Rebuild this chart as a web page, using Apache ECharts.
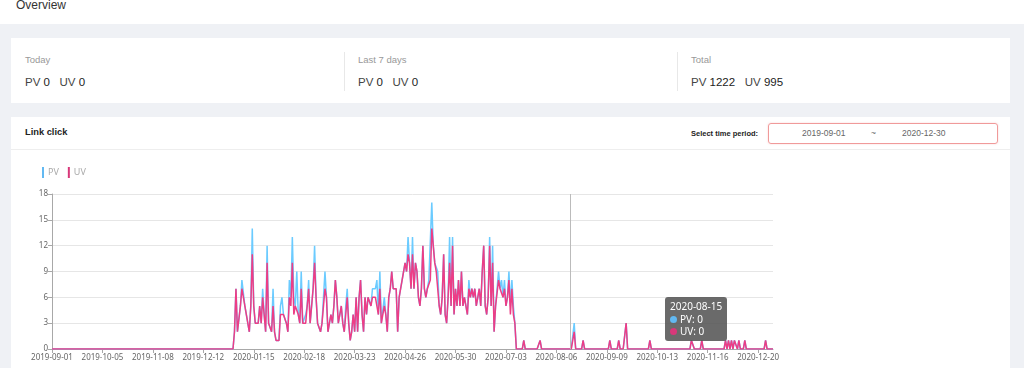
<!DOCTYPE html>
<html>
<head>
<meta charset="utf-8">
<script src="https://cdn.jsdelivr.net/npm/echarts@6/dist/echarts.min.js"></script>
<style>
  html, body { margin:0; padding:0; }
  body { width:1024px; height:368px; overflow:hidden; background:#eff1f5; position:relative;
         font-family:"Liberation Sans", Arial, sans-serif; }
  .abs { position:absolute; }
  .topbar { left:0; top:0; width:1024px; height:24px; background:#fff; }
  .title { left:16px; top:-2px; font-size:12px; color:#333; }
  .card { background:#fff; }
  .lbl { font-size:9.5px; color:#999; }
  .stat { font-size:11.5px; color:#444; }
  .stat b { font-weight:normal; color:#222; }
  .vdiv { width:1px; background:#e8e8e8; }
  .hdr { font-size:9.3px; font-weight:bold; color:#222; }
  .picker { border:1px solid #f09a9a; border-radius:3px; box-shadow:0 0 2px rgba(240,120,120,0.35); }
  .pk { font-size:8.5px; color:#666; top:4px; }
</style>
</head>
<body>
<div class="abs topbar"></div>
<div class="abs title">Overview</div>

<div class="abs card" style="left:11px;top:38px;width:999px;height:65px;"></div>
<div class="abs lbl" style="left:25px;top:54px;">Today</div>
<div class="abs stat" style="left:25px;top:76px;">PV <b>0</b>&nbsp;&nbsp; UV <b>0</b></div>
<div class="abs vdiv" style="left:344px;top:52px;height:39px;"></div>
<div class="abs lbl" style="left:358px;top:54px;">Last 7 days</div>
<div class="abs stat" style="left:358px;top:76px;">PV <b>0</b>&nbsp;&nbsp; UV <b>0</b></div>
<div class="abs vdiv" style="left:677px;top:52px;height:39px;"></div>
<div class="abs lbl" style="left:691px;top:54px;">Total</div>
<div class="abs stat" style="left:691px;top:76px;">PV <b>1222</b>&nbsp;&nbsp; UV <b>995</b></div>

<div class="abs card" style="left:11px;top:117px;width:999px;height:260px;"></div>
<div class="abs hdr" style="left:25px;top:127px;">Link click</div>
<div class="abs" style="left:11px;top:149px;width:999px;height:1px;background:#eeeeee;"></div>
<div class="abs hdr" style="left:691px;top:129px;font-size:7.5px;">Select time period:</div>
<div class="abs picker" style="left:768px;top:123px;width:228px;height:19px;">
  <div class="abs pk" style="left:33px;">2019-09-01</div>
  <div class="abs pk" style="left:102px;">~</div>
  <div class="abs pk" style="left:133px;">2020-12-30</div>
</div>

<div id="chart" class="abs" style="left:11px;top:151px;width:999px;height:217px;"></div>

<script>
// ---- data ----
const startDate = '2019-09-01';
const endDate = '2020-12-30';
const legendNames = ['PV', 'UV'];
// daily values from 2020-01-02 to 2020-07-11 (other days are 0 unless listed below)
const activeStart = '2020-01-02';
const pvActive = [
  2,7,2,2,5,8,8,5,4,4,2,5,14,5,3,3,3,5,3,7,4,2,12,3,3,2,7,2,1,1,1,5,6,4,4,3,2,8,6,13,6,5,9,4,3,9,3,3,4,5,8,3,3,7,12,6,3,3,2,3,3,9,6,2,3,4,3,5,8,6,3,4,5,3,2,5,7,3,1,2,4,2,6,2,6,8,4,2,6,4,6,6,5,7,7,7,8,4,9,3,3,6,4,2,6,7,9,7,7,7,2,6,7,7,9,10,9,13,10,7,13,7,10,9,6,5,7,12,7,6,7,8,8,17,12,10,10,9,5,4,6,11,4,3,6,13,5,13,4,7,5,8,5,9,5,6,5,4,8,6,7,6,7,5,6,7,5,9,12,5,4,6,13,5,12,2,5,5,9,7,8,6,8,5,6,9,5,8,5,3
];
const uvActive = [
  2,7,2,2,5,7,7,5,4,4,2,5,11,5,3,3,3,5,3,6,4,2,10,3,3,2,5,2,1,1,1,4,4,4,4,3,2,6,5,10,4,5,5,4,3,7,3,3,3,3,7,3,3,7,10,6,3,3,2,3,3,7,6,2,3,4,3,5,8,6,3,4,5,3,2,4,6,3,1,2,4,2,6,2,6,8,4,2,6,4,6,6,5,6,6,6,6,4,7,3,3,5,4,2,6,7,9,7,7,7,2,6,7,7,9,10,9,11,10,7,11,7,10,9,6,5,7,12,7,6,7,7,8,14,12,10,9,9,5,4,6,11,4,3,6,10,5,12,4,7,5,8,5,9,5,6,5,4,7,6,7,6,7,5,6,7,5,9,12,5,4,6,12,5,10,2,5,5,8,7,7,6,7,5,6,8,4,7,4,3
];
// sparse later days
const laterDays = ['2020-07-15','2020-07-26','2020-08-18','2020-08-24','2020-09-11','2020-09-17','2020-09-22','2020-10-08','2020-11-05','2020-11-06','2020-11-12','2020-11-28','2020-11-30','2020-12-02','2020-12-04','2020-12-05','2020-12-07','2020-12-11','2020-12-25'];
const laterPV = [1,1,3,1,1,1,3,1,1,1,1,1,1,1,1,1,1,1,1];
const laterUV = [1,1,2,1,1,1,3,1,1,1,1,1,1,1,1,1,1,1,1];
const tipDate = '2020-08-15';

// ---- build categories & series ----
function fmt(d){ const m=d.getUTCMonth()+1, dd=d.getUTCDate(); return d.getUTCFullYear()+'-'+(m<10?'0':'')+m+'-'+(dd<10?'0':'')+dd; }
const days = [];
for (let t = Date.parse(startDate+'T00:00:00Z'); t <= Date.parse(endDate+'T00:00:00Z'); t += 86400000) days.push(fmt(new Date(t)));
const pv = days.map(() => 0), uv = days.map(() => 0);
const a0 = days.indexOf(activeStart);
pvActive.forEach((v,k) => pv[a0+k] = v);
uvActive.forEach((v,k) => uv[a0+k] = v);
laterDays.forEach((d,k) => { const i = days.indexOf(d); pv[i] = laterPV[k]; uv[i] = laterUV[k]; });

const C_PV = '#62b9f2', C_UV = '#d8387a';
const chart = echarts.init(document.getElementById('chart'));
const axisCol = '#a8a8a8';
chart.setOption({
  animation: false,
  textStyle: { fontFamily: 'Noto Sans, sans-serif' },
  color: [C_PV, C_UV],
  legend: {
    data: legendNames, left: 26, top: 11, icon: 'rect', itemWidth: 2, itemHeight: 11, itemGap: 9,
    textStyle: { fontSize: 9, color: '#aaa', padding: [0, 0, 0, -1] }
  },
  grid: { left: 41, right: 237, top: 43, bottom: 19 },
  tooltip: {
    trigger: 'axis', alwaysShowContent: true,
    backgroundColor: 'rgba(80,80,80,0.85)', borderWidth: 0, padding: [3,5],
    extraCssText: 'box-shadow:none;border-radius:3px;',
    textStyle: { color: '#fff', fontSize: 10 },
    axisPointer: { type: 'line', lineStyle: { color: '#bbb', width: 1, type: 'solid' }, label: { show: false } },
    position: function () { return [654, 146]; },
    formatter: function (ps) {
      const dot = c => '<span style="display:inline-block;width:7px;height:7px;border-radius:50%;background:'+c+';margin-right:3px;"></span>';
      let s = '<div style="font-size:10px;line-height:12.5px;">' + ps[0].axisValue;
      ps.forEach(p => { s += '<br>' + dot(p.color) + p.seriesName + ': ' + p.value; });
      return s + '</div>';
    }
  },
  xAxis: {
    type: 'category', boundaryGap: false, data: days,
    axisLine: { lineStyle: { color: axisCol } },
    axisTick: { show: true, interval: 33, length: 4, lineStyle: { color: axisCol } },
    axisLabel: { interval: 33, fontSize: 8, color: '#666', margin: 5 },
    splitLine: { show: false }
  },
  yAxis: {
    type: 'value', min: 0, max: 18, interval: 3,
    axisLine: { show: true, lineStyle: { color: axisCol } },
    axisTick: { show: true, length: 4, lineStyle: { color: axisCol } },
    axisLabel: { fontSize: 8, color: '#666', margin: 4 },
    splitLine: { lineStyle: { color: '#e6e6e6' } }
  },
  series: [
    { name: 'PV', type: 'line', data: pv, symbol: 'none', showSymbol: false, lineStyle: { width: 1.5, color: C_PV } },
    { name: 'UV', type: 'line', data: uv, symbol: 'none', showSymbol: false, lineStyle: { width: 1.5, color: C_UV } }
  ]
});
chart.dispatchAction({ type: 'showTip', seriesIndex: 0, dataIndex: days.indexOf(tipDate) });
</script>
</body>
</html>
